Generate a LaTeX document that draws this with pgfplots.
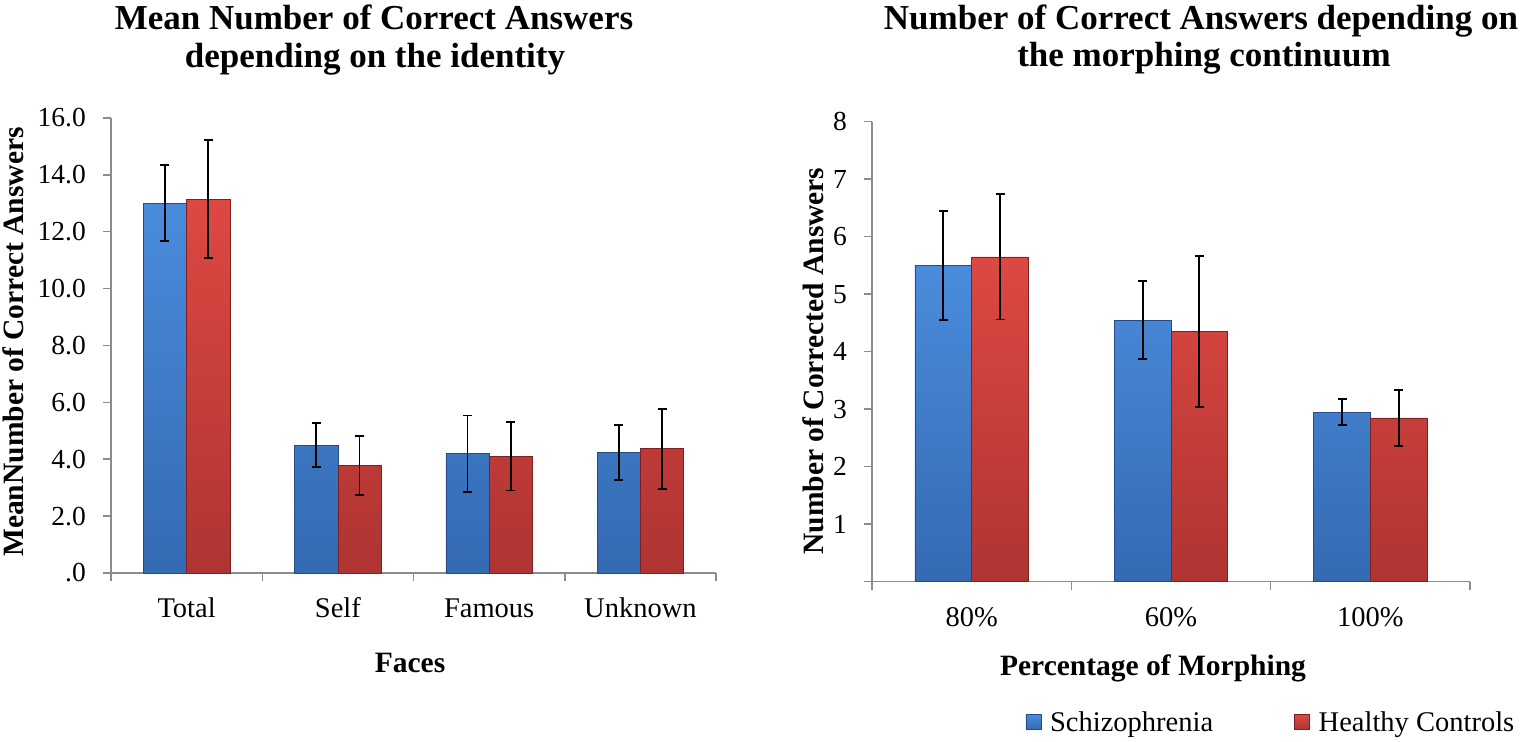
\documentclass[border=0pt]{standalone}
\usepackage{pgfplots}
\usepackage{pgfplotstable}
\pgfplotsset{compat=1.18}
\usepackage{fontspec}
\setmainfont{Liberation Serif}
\definecolor{bluetop}{RGB}{74,140,220}
\definecolor{bluebot}{RGB}{52,106,178}
\definecolor{blueedge}{RGB}{38,76,135}
\definecolor{redtop}{RGB}{222,72,66}
\definecolor{redbot}{RGB}{174,52,50}
\definecolor{rededge}{RGB}{125,32,32}
\definecolor{axisgray}{RGB}{140,140,140}

\pgfplotstableread{
x y e
0 13.00 1.34
1 4.50 0.77
2 4.20 1.34
3 4.25 0.97
}\leftS
\pgfplotstableread{
x y e
0 13.15 2.07
1 3.78 1.03
2 4.10 1.20
3 4.37 1.41
}\leftH
\pgfplotstableread{
x y e
0 5.50 0.95
1 4.55 0.68
2 2.95 0.22
}\rightS
\pgfplotstableread{
x y e
0 5.65 1.09
1 4.35 1.31
2 2.85 0.49
}\rightH

\newcommand\tickfont{\fontsize{27.5}{32}\selectfont}
\newcommand\catfont{\fontsize{28.5}{33}\selectfont}
\newcommand\titlefont{\fontsize{35}{38}\selectfont\bfseries}
\newcommand\labfont{\fontsize{29.5}{34}\selectfont\bfseries}

\pgfplotsset{
  excel/.style={
    scale only axis,
    axis lines*=left,
    axis line style={axisgray, line width=1.5pt},
    every tick/.style={axisgray, line width=1.5pt},
    tick align=outside,
    major tick length=8pt,
    ymin=0,
    ybar=0pt,
    xmin=-0.5,
    xticklabels={},
    yticklabel style={font=\tickfont, anchor=east, inner sep=0pt, xshift=-17pt},
    extra x tick style={major tick length=0pt,
      xticklabel style={font=\catfont, anchor=base, inner sep=0pt, yshift=-45pt}},
    clip=false,
  },
  errs/.style={error bars/.cd, y dir=both, y explicit,
      error bar style={line width=1.9pt, black},
      error mark options={rotate=90, mark size=4.5pt, line width=1.9pt, black}},
  sbar/.style={draw=blueedge, line width=0.6pt, top color=bluetop, bottom color=bluebot},
  hbar/.style={draw=rededge, line width=0.6pt, top color=redtop, bottom color=redbot},
}

\begin{document}
\begin{tikzpicture}
\path[use as bounding box] (0pt,0pt) rectangle (1522pt,741pt);

\begin{axis}[excel,
  at={(111pt,168pt)}, anchor=south west,
  width=605pt, height=455pt,
  xmax=3.5, ymax=16,
  bar width=43.3pt,
  xtick={-0.5,0.5,1.5,2.5,3.5},
  extra x ticks={0,1,2,3},
  extra x tick labels={Total,Self,Famous,Unknown},
  ytick={0,2,4,6,8,10,12,14,16},
  yticklabels={.0,2.0,4.0,6.0,8.0,10.0,12.0,14.0,16.0},
]
\addplot[sbar, errs] table[x=x,y=y,y error=e]{\leftS};
\addplot[hbar, errs] table[x=x,y=y,y error=e]{\leftH};
\end{axis}

\begin{axis}[excel,
  at={(872pt,159.3pt)}, anchor=south west,
  width=598pt, height=460pt,
  xmax=2.5, ymax=8,
  bar width=56.7pt,
  xtick={-0.5,0.5,1.5,2.5},
  extra x ticks={0,1,2},
  extra x tick labels={80\%,60\%,100\%},
  ytick={0,1,2,3,4,5,6,7,8},
  yticklabels={,1,2,3,4,5,6,7,8},
  legend columns=2,
  legend style={draw=none, fill=none, font=\catfont,
    at={(0.667,-0.305)}, anchor=center,
    /tikz/every even column/.append style={column sep=79pt},
    /tikz/every odd column/.append style={column sep=7pt}},
  legend image code/.code={\path[#1] (0pt,-7.5pt) rectangle (15pt,7.5pt);},
]
\addplot[sbar, errs] table[x=x,y=y,y error=e]{\rightS};
\addplot[hbar, errs] table[x=x,y=y,y error=e]{\rightH};
\legend{Schizophrenia,Healthy Controls}
\end{axis}

\node[font=\titlefont, anchor=base] at (374pt,711pt) {Mean Number of Correct Answers};
\node[font=\titlefont, anchor=base] at (375pt,673pt) {depending on the identity};
\node[font=\titlefont, anchor=base] at (1201pt,711pt) {Number of Correct Answers depending on};
\node[font=\titlefont, anchor=base] at (1204pt,674pt) {the morphing continuum};

\node[font=\labfont, anchor=base, rotate=90] at (23pt,399pt) {MeanNumber of Correct Answers};
\node[font=\labfont, anchor=base, rotate=90] at (823pt,380pt) {Number of Corrected Answers};
\node[font=\labfont, anchor=base] at (410pt,68pt) {Faces};
\node[font=\labfont, anchor=base] at (1153pt,65pt) {Percentage of Morphing};
\end{tikzpicture}
\end{document}
